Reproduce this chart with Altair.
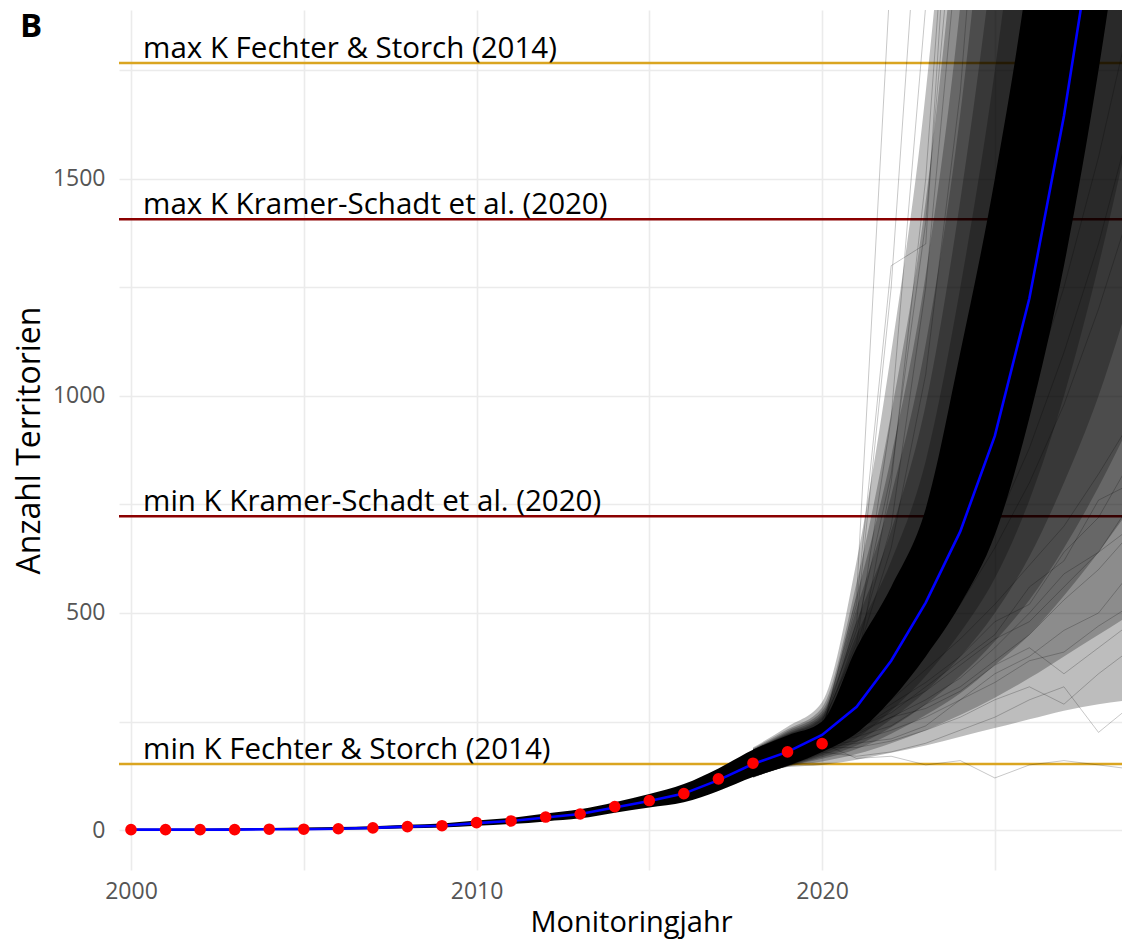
import altair as alt
import pandas as pd

# ---------------- data ----------------
years = list(range(2000, 2030))
obs_years = list(range(2000, 2021))
observed = [1, 1, 1, 1, 2, 2, 3, 5, 8, 10, 17, 21, 30, 37, 54, 68, 84, 118, 154, 180, 199]
mean_years = list(range(2000, 2029))
mean_traj = [1, 1, 1, 1, 2, 2, 3, 5, 8, 10, 16, 21, 29, 37, 52, 67, 84, 115, 152, 180,
             219, 284, 390, 524, 688, 908, 1225, 1645, 2150]

# dense core of the simulated trajectories (2000-2029)
core_lo = [0, 0, 0, 0, 0, 0, 1, 2, 4, 6, 10, 14, 20, 27, 40, 52, 64, 90, 122, 148,
           180, 223, 300, 400, 520, 680, 950, 1300, 1750, 2300]
core_hi = [3, 3, 3, 4, 5, 6, 7, 9, 12, 15, 22, 28, 38, 48, 64, 83, 106, 142, 185, 218,
           250, 420, 560, 740, 1100, 1500, 2000, 2700, 3500, 4500]

# density bands of the spread (2018-2029), inner (6) to outer (1)
band_years = list(range(2018, 2030))
band6_hi = [185, 220, 258, 450, 620, 850, 1250, 1750, 2400, 3200, 4000, 5000]
band5_hi = [185, 222, 263, 480, 690, 980, 1450, 2050, 2800, 3600, 4500, 5500]
band4_hi = [185, 225, 268, 510, 770, 1120, 1650, 2400, 3200, 4000, 5000, 6000]
band3_hi = [186, 228, 274, 540, 860, 1280, 1900, 2800, 3600, 4500, 5500, 6500]
band2_hi = [188, 232, 282, 570, 960, 1450, 2200, 3200, 4000, 5000, 6000, 7000]
band1_hi = [190, 238, 295, 620, 1100, 1700, 2600, 3800, 4800, 5800, 6800, 7800]
band6_lo = [122, 148, 176, 212, 275, 355, 455, 580, 760, 1000, 1300, 1650]
band5_lo = [122, 148, 172, 203, 255, 320, 400, 500, 630, 800, 1000, 1250]
band4_lo = [122, 147, 168, 195, 237, 290, 355, 435, 530, 650, 790, 950]
band3_lo = [122, 147, 164, 187, 222, 265, 315, 380, 450, 540, 640, 750]
band2_lo = [121, 146, 158, 175, 200, 230, 265, 305, 350, 400, 450, 500]
band1_lo = [120, 145, 150, 162, 178, 195, 215, 235, 255, 275, 290, 300]

# individual stray trajectories 2020-2029
sim_years = list(range(2020, 2030))
fast1 = [225, 540, 2000, 3000, 4000, 5000, 6000, 7000, 8000, 9000]
fast2 = [230, 480, 1250, 2400, 3500, 4500, 5500, 6500, 7500, 8500]
fast3 = [240, 430, 950, 1900, 2900, 3900, 4900, 5900, 6900, 7900]
fast4 = [235, 380, 800, 1500, 2600, 3600, 4600, 5600, 6600, 7600]
fast5 = [245, 420, 700, 1250, 2100, 3100, 4100, 5100, 6100, 7100]
fast6 = [230, 520, 1300, 1350, 2600, 3600, 4600, 5600, 6600, 7600]
fast7 = [240, 400, 650, 1050, 1700, 2700, 3700, 4700, 5700, 6700]
fast8 = [250, 460, 820, 1400, 2300, 3300, 4300, 5300, 6300, 7300]
mid1 = [210, 280, 380, 500, 640, 800, 1000, 1250, 1550, 1900]
mid2 = [205, 260, 340, 450, 560, 700, 880, 1100, 1350, 1650]
mid3 = [215, 290, 400, 540, 720, 950, 1250, 1600, 2000, 2500]
mid4 = [200, 250, 320, 420, 520, 650, 800, 980, 1200, 1450]
mid5 = [220, 300, 420, 580, 780, 1050, 1400, 1850, 2400, 3000]
slow1 = [200, 215, 240, 290, 330, 390, 450, 530, 600, 690]
slow2 = [195, 205, 230, 260, 300, 340, 390, 410, 470, 520]
slow3 = [205, 230, 280, 320, 380, 440, 480, 560, 640, 700]
slow4 = [190, 190, 205, 230, 260, 300, 330, 290, 360, 420]
slow5 = [180, 170, 180, 200, 230, 260, 300, 330, 225, 290]
slow6 = [200, 165, 170, 150, 160, 120, 150, 160, 150, 140]
slow7 = [210, 250, 300, 370, 440, 520, 610, 700, 820, 950]
slow8 = [200, 240, 290, 340, 400, 480, 520, 640, 720, 860]
slow9 = [195, 220, 260, 300, 350, 420, 500, 590, 640, 760]
slow10 = [205, 235, 270, 330, 390, 450, 560, 620, 760, 800]
slow11 = [190, 200, 210, 240, 300, 360, 400, 460, 500, 600]
slow12 = [200, 225, 260, 280, 320, 380, 420, 360, 420, 480]

k_values = [1767, 1407, 723, 152]
k_labels = ["max K Fechter & Storch (2014)", "max K Kramer-Schadt et al. (2020)",
            "min K Kramer-Schadt et al. (2020)", "min K Fechter & Storch (2014)"]
k_colors = ["#DAA520", "#8B0000", "#8B0000", "#DAA520"]

x_grid = [2000, 2005, 2010, 2015, 2020, 2025]
y_grid = [0, 250, 500, 750, 1000, 1250, 1500, 1750]

# ---------------- chart ----------------
FONT = "Open Sans"
xs = alt.Scale(domain=[1999.653, 2028.68], nice=False, zero=False)
ys = alt.Scale(domain=[-92, 1889], nice=False, zero=False)

xaxis = alt.Axis(values=x_grid, format="d",
                 labelExpr="datum.value % 10 == 0 ? datum.label : ''",
                 title="Monitoringjahr", titleX=512, titleFontSize=29)
yaxis = alt.Axis(values=y_grid, format="d",
                 labelExpr="datum.value % 500 == 0 ? datum.label : ''",
                 title="Anzahl Territorien", titleFontSize=32)

core_df = pd.DataFrame({"year": years, "lo": core_lo, "hi": core_hi})
band_df = pd.DataFrame({"year": band_years,
                        "lo1": band1_lo, "hi1": band1_hi, "lo2": band2_lo, "hi2": band2_hi,
                        "lo3": band3_lo, "hi3": band3_hi, "lo4": band4_lo, "hi4": band4_hi,
                        "lo5": band5_lo, "hi5": band5_hi, "lo6": band6_lo, "hi6": band6_hi})

stray = {"fast1": fast1, "fast2": fast2, "fast3": fast3, "fast4": fast4, "fast5": fast5,
         "fast6": fast6, "fast7": fast7, "fast8": fast8,
         "mid1": mid1, "mid2": mid2, "mid3": mid3, "mid4": mid4, "mid5": mid5,
         "slow1": slow1, "slow2": slow2, "slow3": slow3, "slow4": slow4,
         "slow5": slow5, "slow6": slow6, "slow7": slow7, "slow8": slow8, "slow9": slow9,
         "slow10": slow10, "slow11": slow11, "slow12": slow12}
stray_df = pd.DataFrame([{"run": k, "year": y, "n": v}
                         for k, vals in stray.items() for y, v in zip(sim_years, vals)])

kdf = pd.DataFrame({"k": k_values, "label": k_labels, "color": k_colors})
obs_df = pd.DataFrame({"year": obs_years, "n": observed})
mean_df = pd.DataFrame({"year": mean_years, "n": mean_traj})
panel_df = pd.DataFrame({"t": ["B"]})

krules = alt.Chart(kdf).mark_rule(strokeWidth=2.6).encode(
    y=alt.Y("k:Q", scale=ys, axis=yaxis),
    color=alt.Color("color:N", scale=None),
)
ktext = alt.Chart(kdf).mark_text(align="left", baseline="alphabetic", dy=-5,
                                 fontSize=29.5, font=FONT, color="black").encode(
    x=alt.datum(2000.35, scale=xs),
    y=alt.Y("k:Q", scale=ys),
    text="label:N",
)


def area(df, lo, hi, op):
    return alt.Chart(df).mark_area(color="black", opacity=op, interpolate="monotone",
                                   clip=True).encode(
        x=alt.X("year:Q", scale=xs, axis=xaxis),
        y=alt.Y(f"{lo}:Q", scale=ys, axis=yaxis),
        y2=f"{hi}:Q",
    )


bands = [area(band_df, f"lo{i}", f"hi{i}", 0.26) for i in range(1, 7)]
core = area(core_df, "lo", "hi", 1.0)

stray_lines = alt.Chart(stray_df).mark_line(color="black", opacity=0.22, strokeWidth=1,
                                            clip=True).encode(
    x=alt.X("year:Q", scale=xs),
    y=alt.Y("n:Q", scale=ys),
    detail="run:N",
)

mean_line = alt.Chart(mean_df).mark_line(color="#0000FF", strokeWidth=2.6, clip=True).encode(
    x=alt.X("year:Q", scale=xs),
    y=alt.Y("n:Q", scale=ys),
)

points = alt.Chart(obs_df).mark_circle(color="#FF0000", size=135, opacity=1).encode(
    x=alt.X("year:Q", scale=xs),
    y=alt.Y("n:Q", scale=ys),
)

panel = alt.Chart(panel_df).mark_text(align="left", baseline="alphabetic",
                                      fontSize=33, fontWeight="bold", font=FONT,
                                      color="black").encode(
    x=alt.value(-99), y=alt.value(27), text="t:N"
)

chart = alt.layer(
    krules, ktext, *bands, stray_lines, core,
    mean_line, points, panel
).properties(
    width=1003, height=860,
    autosize=alt.AutoSizeParams(type="none"),
    padding={"left": 111, "top": 2, "right": 0, "bottom": 69},
).configure_view(stroke=None).configure_axis(
    grid=True, gridColor="#EBEBEB", gridWidth=1.6, domain=False, ticks=False,
    labelFont=FONT, labelFontSize=23, labelColor="#555555",
    titleFont=FONT, titleFontWeight="normal", titleColor="black",
).configure_axisX(labelPadding=10, titlePadding=5).configure_axisY(
    labelPadding=14, titlePadding=6)

chart.save("out.html", embed_options={"renderer": "svg", "actions": False})
